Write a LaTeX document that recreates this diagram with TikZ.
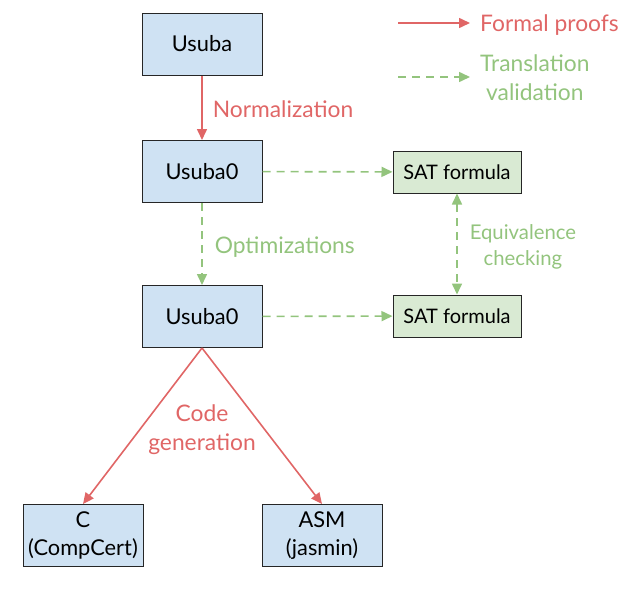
\documentclass[tikz,border=0pt]{standalone}
\usepackage{fontspec}
\setmainfont{Lato}
\usetikzlibrary{arrows.meta}
\definecolor{rd}{HTML}{E06666}
\definecolor{gr}{HTML}{93C47D}
\definecolor{bfill}{HTML}{CFE2F3}
\definecolor{gfill}{HTML}{D9EAD3}
\begin{document}
\begin{tikzpicture}[x=1pt,y=-1pt,
  bbox/.style={draw=black!85,line width=1pt,fill=bfill,minimum width=120pt,minimum height=62pt,inner sep=0pt,font=\fontsize{21.8}{28}\selectfont,align=center},
  sbox/.style={draw=black!85,line width=1pt,fill=gfill,minimum width=128pt,minimum height=42pt,inner sep=0pt,font=\fontsize{20}{22}\selectfont},
  proof/.style={draw=rd,line width=1.6pt,-{Triangle[width=10pt,length=11pt]}},
  valid/.style={draw=gr,line width=1.6pt,dash pattern=on 8pt off 6pt,-{Triangle[width=10pt,length=11pt]}},
  rlab/.style={text=rd,font=\fontsize{22.8}{29}\selectfont,align=center,inner sep=0pt},
  glab/.style={text=gr,font=\fontsize{22.8}{29}\selectfont,align=center,inner sep=0pt},
  elab/.style={text=gr,font=\fontsize{20.3}{26}\selectfont,align=center,inner sep=0pt}]
\useasboundingbox (0,0) rectangle (630,589);
\node[bbox] (usuba) at (202,44) {Usuba};
\node[bbox] (u0a) at (202,171.5) {Usuba0};
\node[bbox] (u0b) at (202,316.5) {Usuba0};
\node[sbox] (sat1) at (457,172) {SAT formula};
\node[sbox] (sat2) at (457,316) {SAT formula};
\node[bbox] (c) at (83,535.5) {C\\(CompCert)};
\node[bbox] (asm) at (322,535.5) {ASM\\(jasmin)};
\draw[proof] (usuba) -- (u0a) node[midway,right=10pt,yshift=-1.5pt,rlab] (norm) {Normalization};
\draw[valid] (u0a) -- (u0b) node[midway,right=12pt,yshift=-3pt,glab] (opt) {Optimizations};
\draw[valid] (u0a) -- (sat1);
\draw[valid] (u0b) -- (sat2);
\draw[valid,{Triangle[width=10pt,length=11pt]}-{Triangle[width=10pt,length=11pt]}] (sat1) -- (sat2) node[midway,right=12pt,yshift=-3pt,elab] (eq) {Equivalence\\checking};
\coordinate (cg) at (202,348);
\draw[proof] (cg) -- (c.north);
\draw[proof] (cg) -- (asm.north);
\node[rlab] (code) at (202,429.5) {Code\\generation};
\coordinate (l1a) at (398,23);
\coordinate (l1b) at (470,23);
\coordinate (l2a) at (398,77);
\coordinate (l2b) at (470,77);
\draw[proof] (l1a) -- (l1b);
\draw[valid] (l2a) -- (l2b);
\node[rlab,anchor=west] (fp) at (480,25) {Formal proofs};
\node[glab,anchor=west] (tv) at (480,78) {Translation\\validation};
\end{tikzpicture}
\end{document}
